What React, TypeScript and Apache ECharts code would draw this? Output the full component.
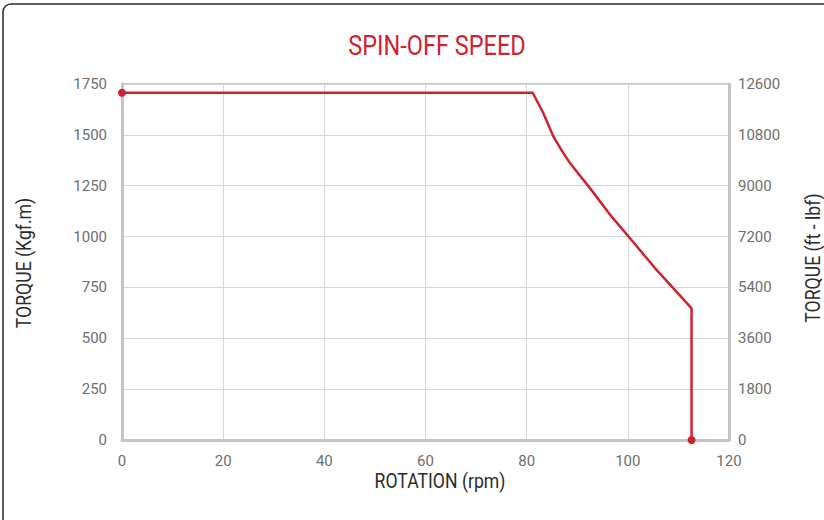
import React, { useEffect, useRef } from "react";
import * as echarts from "echarts";

const rotationRpm = [0, 81.2, 83.3, 85.3, 87.0, 88.6, 92.7, 96.8, 101.1, 105.4, 110.2, 112.6, 112.6];
const torqueKgfm = [1707, 1707, 1606, 1491, 1420, 1360, 1232, 1098, 972, 844, 713, 647, 0];
const markedIdx = [0, 12];
const xTicks = { min: 0, max: 120, interval: 20 };
const leftTicks = { min: 0, max: 1750, interval: 250 };
const rightTicks = { min: 0, max: 12600, interval: 1800 };

const TITLE = "SPIN-OFF SPEED";
const X_NAME = "ROTATION (rpm)";
const LEFT_NAME = "TORQUE (Kgf.m)";
const RIGHT_NAME = "TORQUE (ft - lbf)";

const FONT = "Roboto, 'Liberation Sans', sans-serif";
const RED = "#cf2330";

export default function App() {
  const ref = useRef<HTMLDivElement>(null);
  useEffect(() => {
    if (!ref.current) return;
    const chart = echarts.init(ref.current, undefined, { renderer: "svg" });
    const data = rotationRpm.map((x, i) => {
      const marked = markedIdx.includes(i);
      return {
        value: [x, torqueKgfm[i]],
        symbol: marked ? "circle" : "none",
        symbolSize: marked ? 8 : 0,
      };
    });
    const labelStyle = {
      color: "#6e6e6e",
      fontFamily: FONT,
      fontSize: 15,
      formatter: (v: number) => String(v),
    };
    const nameStyle = { fill: "#2b2b2b", fontFamily: FONT, fontSize: 21 };
    chart.setOption({
      animation: false,
      backgroundColor: "#ffffff",
      grid: {
        left: 122,
        width: 607,
        top: 84,
        height: 356,
        show: true,
        borderColor: "#c4c4c4",
        borderWidth: 2,
      },
      xAxis: {
        type: "value",
        min: xTicks.min,
        max: xTicks.max,
        interval: xTicks.interval,
        axisLine: { show: true, lineStyle: { color: "#c4c4c4", width: 3 } },
        axisTick: { show: false },
        axisLabel: { ...labelStyle, margin: 13 },
        splitLine: { show: true, lineStyle: { color: "#d6d6d6", width: 1 } },
      },
      yAxis: [
        {
          type: "value",
          position: "left",
          min: leftTicks.min,
          max: leftTicks.max,
          interval: leftTicks.interval,
          axisLine: { show: true, lineStyle: { color: "#c4c4c4", width: 3 } },
          axisTick: { show: false },
          axisLabel: { ...labelStyle, margin: 15, verticalAlign: "middle", padding: [0, 0, 6, 0] },
          splitLine: { show: true, lineStyle: { color: "#d6d6d6", width: 1 } },
        },
        {
          type: "value",
          position: "right",
          min: rightTicks.min,
          max: rightTicks.max,
          interval: rightTicks.interval,
          axisLine: { show: true, lineStyle: { color: "#c4c4c4", width: 3 } },
          axisTick: { show: false },
          axisLabel: { ...labelStyle, margin: 9, verticalAlign: "middle", padding: [0, 0, 6, 0] },
          splitLine: { show: false },
        },
      ],
      graphic: [
        {
          type: "rect",
          shape: { x: 3, y: 4, width: 840, height: 540, r: 8 },
          style: { fill: "none", stroke: "#2a2a2a", lineWidth: 1.5 },
          silent: true,
        },
        {
          type: "text",
          x: 437,
          y: 45,
          scaleX: 0.84,
          style: {
            text: TITLE,
            fill: RED,
            fontFamily: FONT,
            fontSize: 28,
            textAlign: "center",
            textVerticalAlign: "middle",
          },
        },
        {
          type: "text",
          x: 440,
          y: 481,
          scaleX: 0.84,
          style: { ...nameStyle, text: X_NAME, textAlign: "center", textVerticalAlign: "middle" },
        },
        {
          type: "text",
          x: 24,
          y: 263,
          rotation: Math.PI / 2,
          scaleX: 0.84,
          style: { ...nameStyle, text: LEFT_NAME, textAlign: "center", textVerticalAlign: "middle" },
        },
        {
          type: "text",
          x: 813,
          y: 258,
          rotation: Math.PI / 2,
          scaleX: 0.84,
          style: { ...nameStyle, text: RIGHT_NAME, textAlign: "center", textVerticalAlign: "middle" },
        },
      ],
      series: [
        {
          type: "line",
          yAxisIndex: 0,
          data,
          lineStyle: { color: RED, width: 2.5 },
          itemStyle: { color: RED },
          smooth: false,
        },
      ],
    });
    return () => chart.dispose();
  }, []);
  return <div ref={ref} style={{ width: 824, height: 520, position: "absolute", left: 0, top: 0 }} />;
}
